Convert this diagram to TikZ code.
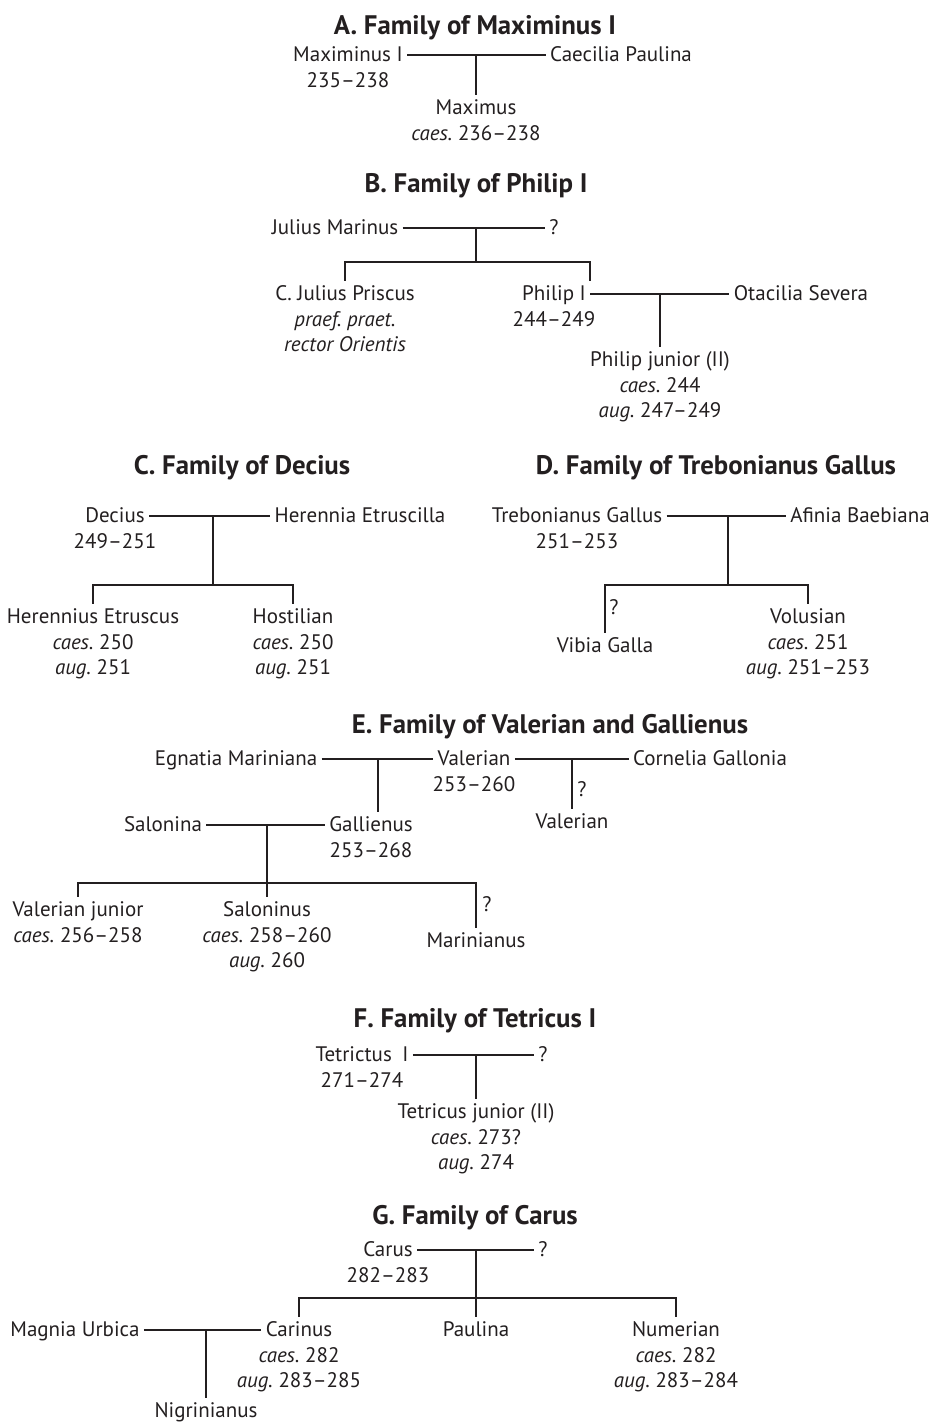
\documentclass[tikz,border=0pt]{standalone}
\usepackage{fontspec}
\setmainfont{PT Sans}
\usetikzlibrary{positioning}
\definecolor{ink}{HTML}{231F20}
\newcommand\bodyfont{\fontsize{10.5}{12.5}\selectfont\frenchspacing}
\newcommand\headfont{\fontsize{13.4}{15}\selectfont\bfseries}
\tikzset{
  kin/.style={draw=ink,line width=.9pt},
  who/.style={text=ink,inner xsep=2pt,inner ysep=1.5pt,text height=8pt,text depth=2pt,font=\bodyfont},
  dates/.style={below=1.8pt of #1,text=ink,inner sep=0pt,align=center,font=\bodyfont},
  head/.style={text=ink,font=\headfont},
  qmark/.style={text=ink,inner sep=1pt,font=\bodyfont}
}
\begin{document}
\begin{tikzpicture}[x=.5pt,y=-.5pt]
  \fill[white] (0,0) rectangle (932,1426);
  \useasboundingbox (0,0) rectangle (932,1426);

  % A
  \node[head] (tA) at (475,28) {A. Family of Maximinus I};
  \node[who] (maxi) at (348,55) {Maximinus I};
  \node[dates=maxi] (maxiD) {235--238};
  \node[who] (caec) at (621,55) {Caecilia Paulina};
  \coordinate (cA) at (476,55);
  \node[who] (maxs) at (476,108) {Maximus};
  \node[dates=maxs] (maxsD) {\emph{caes.} 236--238};
  \draw[kin] (maxi) -- (caec);
  \draw[kin] (cA) -- (cA |- maxs.north);

  % B
  \node[head] (tB) at (476,186) {B. Family of Philip I};
  \node[who] (jmar) at (335,228) {Julius Marinus};
  \node[who] (qB) at (554,228) {?};
  \coordinate (cB) at (476,228);
  \coordinate (barB) at (476,262);
  \node[who] (prisc) at (345,294) {C. Julius Priscus};
  \node[dates=prisc] (priscD) {\emph{praef. praet.}\\\emph{rector Orientis}};
  \node[who] (phil) at (554,294) {Philip I};
  \node[dates=phil] (philD) {244--249};
  \node[who] (otac) at (801,294) {Otacilia Severa};
  \coordinate (cP) at (660,294);
  \node[who] (phjr) at (660,360) {Philip junior (II)};
  \node[dates=phjr] (phjrD) {\emph{caes.} 244\\\emph{aug.} 247--249};
  \draw[kin] (jmar) -- (qB);
  \draw[kin] (cB) -- (barB);
  \draw[kin] (prisc.north) |- (barB) -| (phil.north east);
  \draw[kin] (phil) -- (otac);
  \draw[kin] (cP) -- (cP |- phjr.north);

  % C
  \node[head] (tC) at (242,468) {C. Family of Decius};
  \node[who] (deci) at (115,516) {Decius};
  \node[dates=deci] (deciD) {249--251};
  \node[who] (here) at (360,516) {Herennia Etruscilla};
  \coordinate (cC) at (213,516);
  \coordinate (barC) at (213,585);
  \node[who] (heru) at (93,617) {Herennius Etruscus};
  \node[dates=heru] (heruD) {\emph{caes.} 250\\\emph{aug.} 251};
  \node[who] (host) at (293,617) {Hostilian};
  \node[dates=host] (hostD) {\emph{caes.} 250\\\emph{aug.} 251};
  \draw[kin] (deci) -- (here);
  \draw[kin] (cC) -- (barC);
  \draw[kin] (heru.north) |- (barC) -| (host.north);

  % D
  \node[head] (tD) at (716,468) {D. Family of Trebonianus Gallus};
  \node[who] (treb) at (577,516) {Trebonianus Gallus};
  \node[dates=treb] (trebD) {251--253};
  \node[who] (afin) at (860,516) {Afinia Baebiana};
  \coordinate (cD) at (728,516);
  \coordinate (barD) at (728,585);
  \node[who] (vibi) at (605,646) {Vibia Galla};
  \node[qmark,anchor=west] (qD) at (607,607) {?};
  \node[who] (volu) at (808,617) {Volusian};
  \node[dates=volu] (voluD) {\emph{caes.} 251\\\emph{aug.} 251--253};
  \draw[kin] (treb) -- (afin);
  \draw[kin] (cD) -- (barD);
  \draw[kin] (vibi.north) |- (barD) -| (volu.north);

  % E
  \node[head] (tE) at (550,727) {E. Family of Valerian and Gallienus};
  \node[who] (egna) at (236,759) {Egnatia Mariniana};
  \node[who] (vale) at (474,759) {Valerian};
  \node[dates=vale] (valeD) {253--260};
  \node[who] (corn) at (710,759) {Cornelia Gallonia};
  \coordinate (cE) at (378,759);
  \coordinate (cV) at (572,759);
  \node[who] (gall) at (371,825) {Gallienus};
  \node[dates=gall] (gallD) {253--268};
  \node[qmark,anchor=west] (qE) at (575,789) {?};
  \node[who] (valy) at (572,822) {Valerian};
  \node[who] (salo) at (163,825) {Salonina};
  \coordinate (cS) at (267,825);
  \coordinate (barE) at (267,883);
  \node[who] (valj) at (78,910) {Valerian junior};
  \node[dates=valj] (valjD) {\emph{caes.} 256--258};
  \node[who] (salu) at (267,910) {Saloninus};
  \node[dates=salu] (saluD) {\emph{caes.} 258--260\\\emph{aug.} 260};
  \node[who] (mari) at (476,941) {Marinianus};
  \node[qmark,anchor=west] (qM) at (480,904) {?};
  \draw[kin] (egna) -- (vale);
  \draw[kin] (vale) -- (corn);
  \draw[kin] (cE) -- (cE |- gall.north);
  \draw[kin] (cV) -- (valy);
  \draw[kin] (salo) -- (gall);
  \draw[kin] (cS) -- (salu);
  \draw[kin] (valj.north) |- (barE) -| (mari.north);

  % F
  \node[head] (tF) at (475,1021) {F. Family of Tetricus I};
  \node[who] (tetr) at (362,1055) {Tetrictus\enspace I};
  \node[dates=tetr] (tetrD) {271--274};
  \node[who] (qF) at (543,1055) {?};
  \coordinate (cF) at (476,1055);
  \node[who] (tejr) at (476,1112) {Tetricus junior (II)};
  \node[dates=tejr] (tejrD) {\emph{caes.} 273?\\\emph{aug.} 274};
  \draw[kin] (tetr) -- (qF);
  \draw[kin] (cF) -- (cF |- tejr.north);

  % G
  \node[head] (tG) at (475,1218) {G. Family of Carus};
  \node[who] (caru) at (388,1250) {Carus};
  \node[dates=caru] (caruD) {282--283};
  \node[who] (qG) at (543,1250) {?};
  \coordinate (cG) at (476,1250);
  \coordinate (barG) at (476,1298);
  \node[who] (magn) at (75,1330) {Magnia Urbica};
  \node[who] (cari) at (299,1330) {Carinus};
  \node[dates=cari] (cariD) {\emph{caes.} 282\\\emph{aug.} 283--285};
  \node[who] (paul) at (476,1330) {Paulina};
  \node[who] (nume) at (676,1330) {Numerian};
  \node[dates=nume] (numeD) {\emph{caes.} 282\\\emph{aug.} 283--284};
  \coordinate (cM) at (206,1330);
  \node[who] (nigr) at (206,1411) {Nigrinianus};
  \draw[kin] (caru) -- (qG);
  \draw[kin] (cG) -- (paul);
  \draw[kin] (cari.north) |- (barG) -| (nume.north);
  \draw[kin] (magn) -- (cari);
  \draw[kin] (cM) -- (nigr);
\end{tikzpicture}
\end{document}
